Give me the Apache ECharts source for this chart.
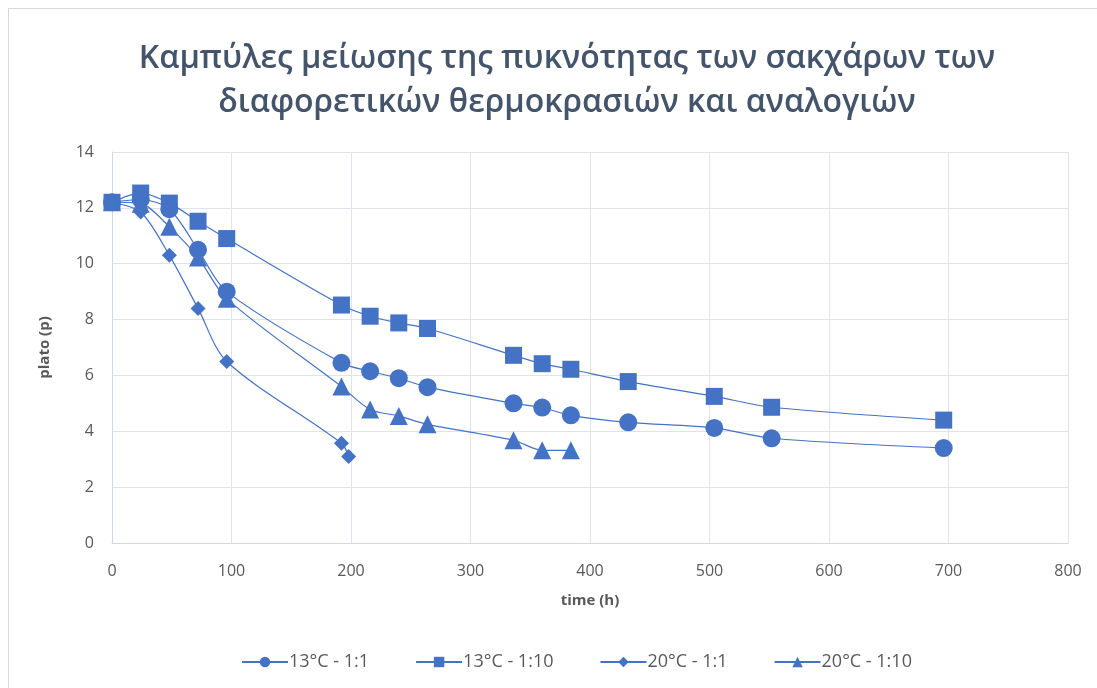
<!DOCTYPE html>
<html><head><meta charset="utf-8">
<script src="https://cdn.jsdelivr.net/npm/echarts@6/dist/echarts.min.js"></script>
<style>
html,body{margin:0;padding:0;background:#fff;}
#frame{position:absolute;left:8px;top:8px;width:1110px;height:700px;border:1px solid #d9d9d9;}
#c{position:absolute;left:0;top:0;width:1097px;height:688px;}
</style></head>
<body><div id="frame"></div><div id="c"></div>
<script>
const titleLines = ['Καμπύλες μείωσης της πυκνότητας των σακχάρων των', 'διαφορετικών θερμοκρασιών και αναλογιών'];
const seriesNames = ['13°C - 1:1', '13°C - 1:10', '20°C - 1:1', '20°C - 1:10'];
const symbols = ['circle', 'rect', 'diamond', 'triangle'];
const t13_11 = [0, 24, 48, 72, 96, 192, 216, 240, 264, 336, 360, 384, 432, 504, 552, 696];
const v13_11 = [12.2, 12.3, 11.95, 10.5, 9.0, 6.45, 6.15, 5.9, 5.58, 5.0, 4.85, 4.57, 4.32, 4.12, 3.75, 3.4];
const t13_110 = [0, 24, 48, 72, 96, 192, 216, 240, 264, 336, 360, 384, 432, 504, 552, 696];
const v13_110 = [12.2, 12.53, 12.17, 11.52, 10.9, 8.52, 8.12, 7.88, 7.68, 6.72, 6.42, 6.22, 5.78, 5.25, 4.86, 4.4];
const t20_11 = [0, 24, 48, 72, 96, 192, 198];
const v20_11 = [12.2, 11.85, 10.3, 8.4, 6.5, 3.57, 3.1];
const t20_110 = [0, 24, 48, 72, 96, 192, 216, 240, 264, 336, 360, 384];
const v20_110 = [12.2, 12.15, 11.32, 10.22, 8.75, 5.6, 4.78, 4.55, 4.25, 3.68, 3.32, 3.32];
const xTicks = {min: 0, max: 800, interval: 100};
const yTicks = {min: 0, max: 14, interval: 2};

const times = [t13_11, t13_110, t20_11, t20_110];
const vals = [v13_11, v13_110, v20_11, v20_110];
const sizes = [18, 17, 15, 18];
const color = '#4472C4';
const txt = '#595959';
const font = '"Open Sans", "Liberation Sans", sans-serif';

const chart = echarts.init(document.getElementById('c'), null, {renderer: 'canvas'});
chart.setOption({
  animation: false,
  title: {
    text: titleLines.join('\n'),
    left: 562, top: 32, textAlign: 'center',
    textStyle: {fontFamily: font, fontSize: 32, fontWeight: 600, color: '#44546A', lineHeight: 44}
  },
  grid: {left: 112, right: 29, top: 152, bottom: 145},
  legend: {
    bottom: 12, left: 236, itemGap: 46, itemWidth: 46, itemHeight: 13,
    textStyle: {fontFamily: font, fontSize: 18, color: txt, padding: [0, 0, 0, -4]},
    data: seriesNames
  },
  xAxis: {
    type: 'value', min: xTicks.min, max: xTicks.max, interval: xTicks.interval,
    name: 'time (h)', nameLocation: 'middle', nameGap: 50,
    nameTextStyle: {fontFamily: font, fontSize: 15, fontWeight: 'bold', color: txt},
    axisLine: {show: true, lineStyle: {color: '#d0d7e5'}},
    axisTick: {show: false},
    axisLabel: {fontFamily: font, fontSize: 16, color: txt, margin: 20},
    splitLine: {show: true, lineStyle: {color: '#dfe4ec'}}
  },
  yAxis: {
    type: 'value', min: yTicks.min, max: yTicks.max, interval: yTicks.interval,
    name: 'plato (p)', nameLocation: 'middle', nameGap: 60, nameRotate: 90,
    nameTextStyle: {fontFamily: font, fontSize: 15, fontWeight: 'bold', color: txt},
    axisLine: {show: true, lineStyle: {color: '#d0d7e5'}},
    axisTick: {show: false},
    axisLabel: {fontFamily: font, fontSize: 16, color: txt, margin: 18},
    splitLine: {show: true, lineStyle: {color: '#dfe4ec'}}
  },
  series: seriesNames.map((n, i) => ({
    name: n, type: 'line', smooth: 0.3,
    symbol: symbols[i], symbolSize: sizes[i],
    itemStyle: {color: color},
    lineStyle: {color: color, width: 1.2},
    data: times[i].map((t, j) => [t, vals[i][j]])
  }))
});
</script></body></html>
